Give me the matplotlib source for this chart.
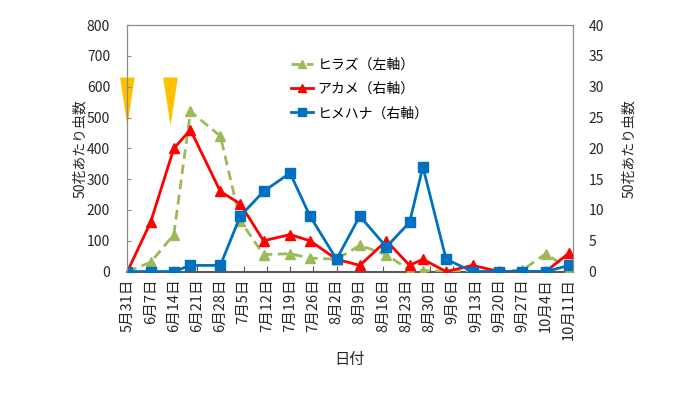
import matplotlib
matplotlib.use('Agg')
import matplotlib.pyplot as plt
import pandas as pd

plt.rcParams['font.family'] = ['Noto Sans CJK JP', 'DejaVu Sans']

# sampling dates (date axis, not evenly spaced)
dates = pd.to_datetime(['2016-05-31', '2016-06-07', '2016-06-14', '2016-06-19', '2016-06-28',
                        '2016-07-04', '2016-07-11', '2016-07-19', '2016-07-25', '2016-08-02',
                        '2016-08-09', '2016-08-17', '2016-08-24', '2016-08-28', '2016-09-04',
                        '2016-09-12', '2016-09-20', '2016-09-27', '2016-10-04', '2016-10-11'])
hiraz = [0, 30, 120, 520, 440, 165, 55, 58, 44, 40, 85, 55, 5, 3, 2, 0, 2, 5, 58, 8]     # left axis
akame = [0, 8, 20, 23, 13, 11, 5, 6, 5, 2, 1, 5, 1, 2, 0, 1, 0, 0, 0, 3]                   # right axis
himehana = [0, 0, 0, 1, 1, 9, 13, 16, 9, 2, 9, 4, 8, 17, 2, 0, 0, 0, 0, 1]                # right axis
spray_dates = pd.to_datetime(['2016-05-31', '2016-06-13'])

tick_dates = pd.date_range('2016-05-31', '2016-10-11', freq='7D')
tick_labels = [f'{d.month}月{d.day}日' for d in tick_dates]

fig = plt.figure(figsize=(7, 3.93), dpi=100)
ax = fig.add_axes([0.181, 0.309, 0.638, 0.627])
ax2 = ax.twinx()

for d in spray_dates:
    ax.fill([d - pd.Timedelta(days=2.2), d + pd.Timedelta(days=2.2), d],
            [630, 630, 472], color='#FFC000', lw=0, zorder=1, clip_on=False)

l1, = ax.plot(dates, hiraz, color='#9BBB59', ls='--', dashes=(3.5, 2), lw=2,
              marker='^', ms=7, label='ヒラズ（左軸）', zorder=3)
l2, = ax2.plot(dates, akame, color='#FF0000', lw=2, marker='^', ms=7,
               label='アカメ（右軸）')
l3, = ax2.plot(dates, himehana, color='#0070C0', lw=2, marker='s', ms=7,
               label='ヒメハナ（右軸）')

ax.set_xlim(pd.Timestamp('2016-05-31') - pd.Timedelta(days=0.2),
            pd.Timestamp('2016-10-11') + pd.Timedelta(days=1.3))
ax.set_ylim(0, 800)
ax2.set_ylim(0, 40)
ax.set_yticks(range(0, 801, 100))
ax2.set_yticks(range(0, 41, 5))
ax.set_xticks(tick_dates)
ax.set_xticklabels(tick_labels, rotation=90, fontsize=10.5, color='#262626')

for a in (ax, ax2):
    for s in a.spines.values():
        s.set_color('#8c8c8c')
        s.set_linewidth(0.8)
ax2.spines['bottom'].set_visible(False)
ax.spines['bottom'].set_color('#595959')
ax.spines['bottom'].set_linewidth(1.5)

ax.tick_params(axis='x', direction='in', length=4, color='#595959', pad=5)
ax.tick_params(axis='y', direction='in', length=3, color='#8c8c8c', labelsize=10,
               labelcolor='#262626', pad=12)
ax2.tick_params(axis='y', length=0, labelsize=10, labelcolor='#262626', pad=11)

ax.set_ylabel('50花あたり虫数', fontsize=10, color='#262626', labelpad=0)
ax2.set_ylabel('50花あたり虫数', fontsize=10, color='#262626', rotation=90, labelpad=13)
ax.set_xlabel('日付', fontsize=11, color='#262626', labelpad=8)

ax2.legend(handles=[l1, l2, l3], loc='upper left', bbox_to_anchor=(0.34, 0.92),
           frameon=False, fontsize=10, handlelength=1.6, labelspacing=0.75,
           handletextpad=0.3, markerscale=0.8)

fig.savefig('out.png', dpi=100)
